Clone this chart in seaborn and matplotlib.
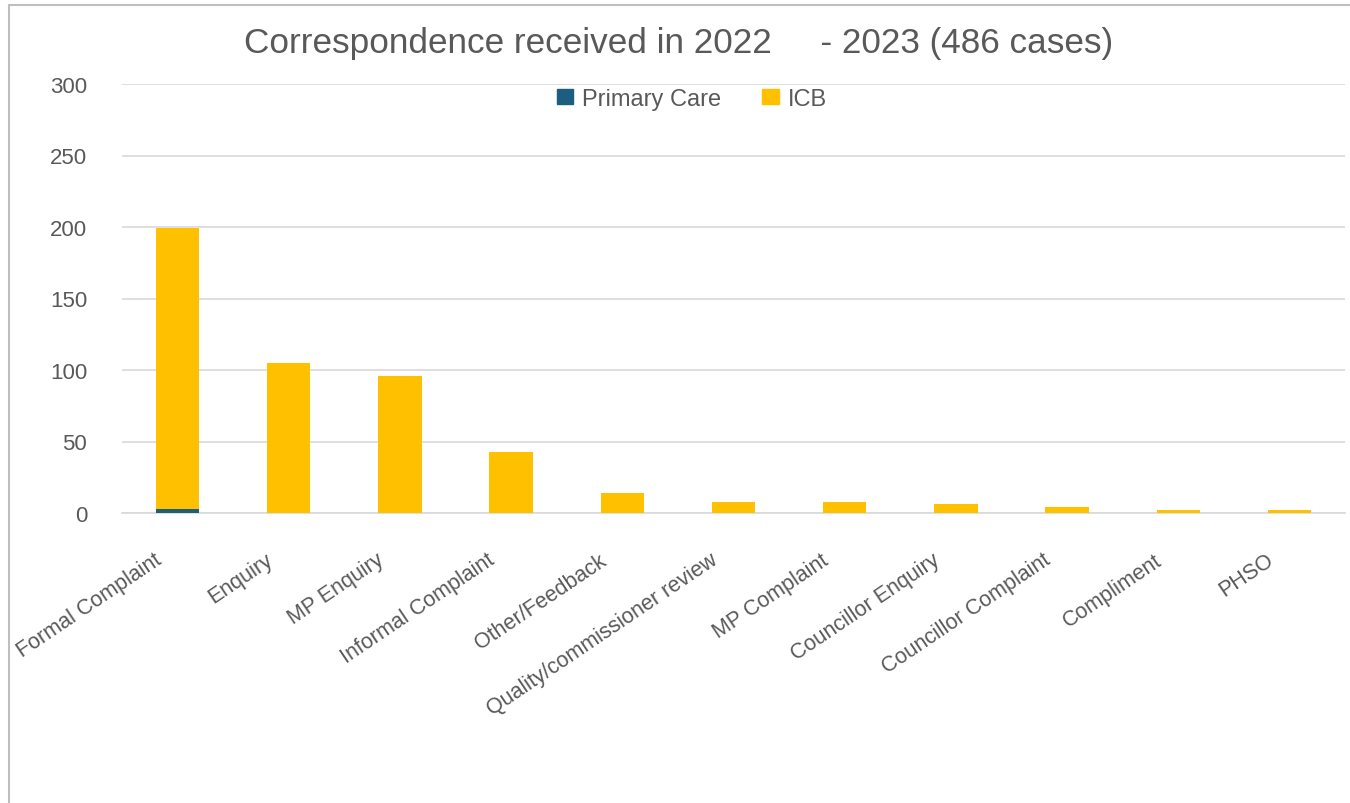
import matplotlib
matplotlib.use("Agg")
import matplotlib.pyplot as plt
from matplotlib.lines import Line2D
from matplotlib.transforms import ScaledTranslation
import seaborn as sns
import pandas as pd

categories = [
    "Formal Complaint", "Enquiry", "MP Enquiry", "Informal Complaint",
    "Other/Feedback", "Quality/commissioner review", "MP Complaint",
    "Councillor Enquiry", "Councillor Complaint", "Compliment", "PHSO",
]
primary_care = [3, 0, 0, 0, 0, 0, 0, 0, 0, 0, 0]
icb = [196, 105, 96, 43, 14, 8, 8, 6, 4, 2, 2]
y_ticks = [0, 50, 100, 150, 200, 250, 300]

title = "Correspondence received in 2022     - 2023 (486 cases)"
series_names = ["Primary Care", "ICB"]
colors = {"Primary Care": "#1B5E7F", "ICB": "#FFC000"}
text_color = "#595959"
grid_color = "#D9D9D9"

df = pd.DataFrame({"category": categories, "Primary Care": primary_care, "ICB": icb})
df["total"] = df["Primary Care"] + df["ICB"]

sns.set_theme(style="white")
plt.rcParams["font.family"] = ["Liberation Sans", "DejaVu Sans"]

fig = plt.figure(figsize=(13.5, 8.04), dpi=100)
ax = fig.add_axes([122 / 1350, 1 - 514 / 804, (1345 - 122) / 1350, (514 - 85) / 804])

# stacked bars: full height in ICB colour, primary care drawn over the base
sns.barplot(data=df, x="category", y="total", order=categories, color=colors["ICB"],
            width=0.39, saturation=1, ax=ax, zorder=3, linewidth=0)
sns.barplot(data=df, x="category", y="Primary Care", order=categories,
            color=colors["Primary Care"], width=0.39, saturation=1, ax=ax,
            zorder=4, linewidth=0)

ax.set_xlim(-0.5, len(categories) - 0.5)
ax.set_ylim(0, 300)
ax.set_yticks(y_ticks)
ax.yaxis.grid(True, color=grid_color, linewidth=1.2, zorder=0)
ax.set_axisbelow(True)
for side in ["left", "right", "top"]:
    ax.spines[side].set_visible(False)
ax.spines["bottom"].set_color(grid_color)
ax.spines["bottom"].set_linewidth(1.2)
ax.set_xlabel("")
ax.set_ylabel("")
ax.tick_params(axis="y", length=0, pad=25, labelsize=16, labelcolor=text_color)
ax.tick_params(axis="x", length=0, pad=16, labelsize=15.5, labelcolor=text_color)
ax.set_xticks(range(len(categories)))
ax.set_xticklabels(categories, rotation=34, ha="right", rotation_mode="anchor")
shift = ScaledTranslation(-0.24, -0.14, fig.dpi_scale_trans)
for lbl in ax.get_xticklabels():
    lbl.set_transform(lbl.get_transform() + shift)

fig.text(679 / 1350, 1 - 43 / 804, title, ha="center", va="center",
         fontsize=25.3, color=text_color)

handles = [plt.Rectangle((0, 0), 1, 1, color=colors[n]) for n in series_names]
ax.legend(handles, series_names, loc="center", bbox_to_anchor=(0.466, 0.966), ncol=2,
          frameon=False, fontsize=17, labelcolor=text_color, handlelength=0.68,
          handleheight=0.62, handletextpad=0.38, columnspacing=1.74)

# chart frame edges
fig.add_artist(Line2D([9 / 1350, 9 / 1350], [0, 1 - 6 / 804], color="#BFBFBF", linewidth=1.5))
fig.add_artist(Line2D([9 / 1350, 1], [1 - 6 / 804, 1 - 6 / 804], color="#BFBFBF", linewidth=1.5))

fig.savefig("out.png", dpi=100)
